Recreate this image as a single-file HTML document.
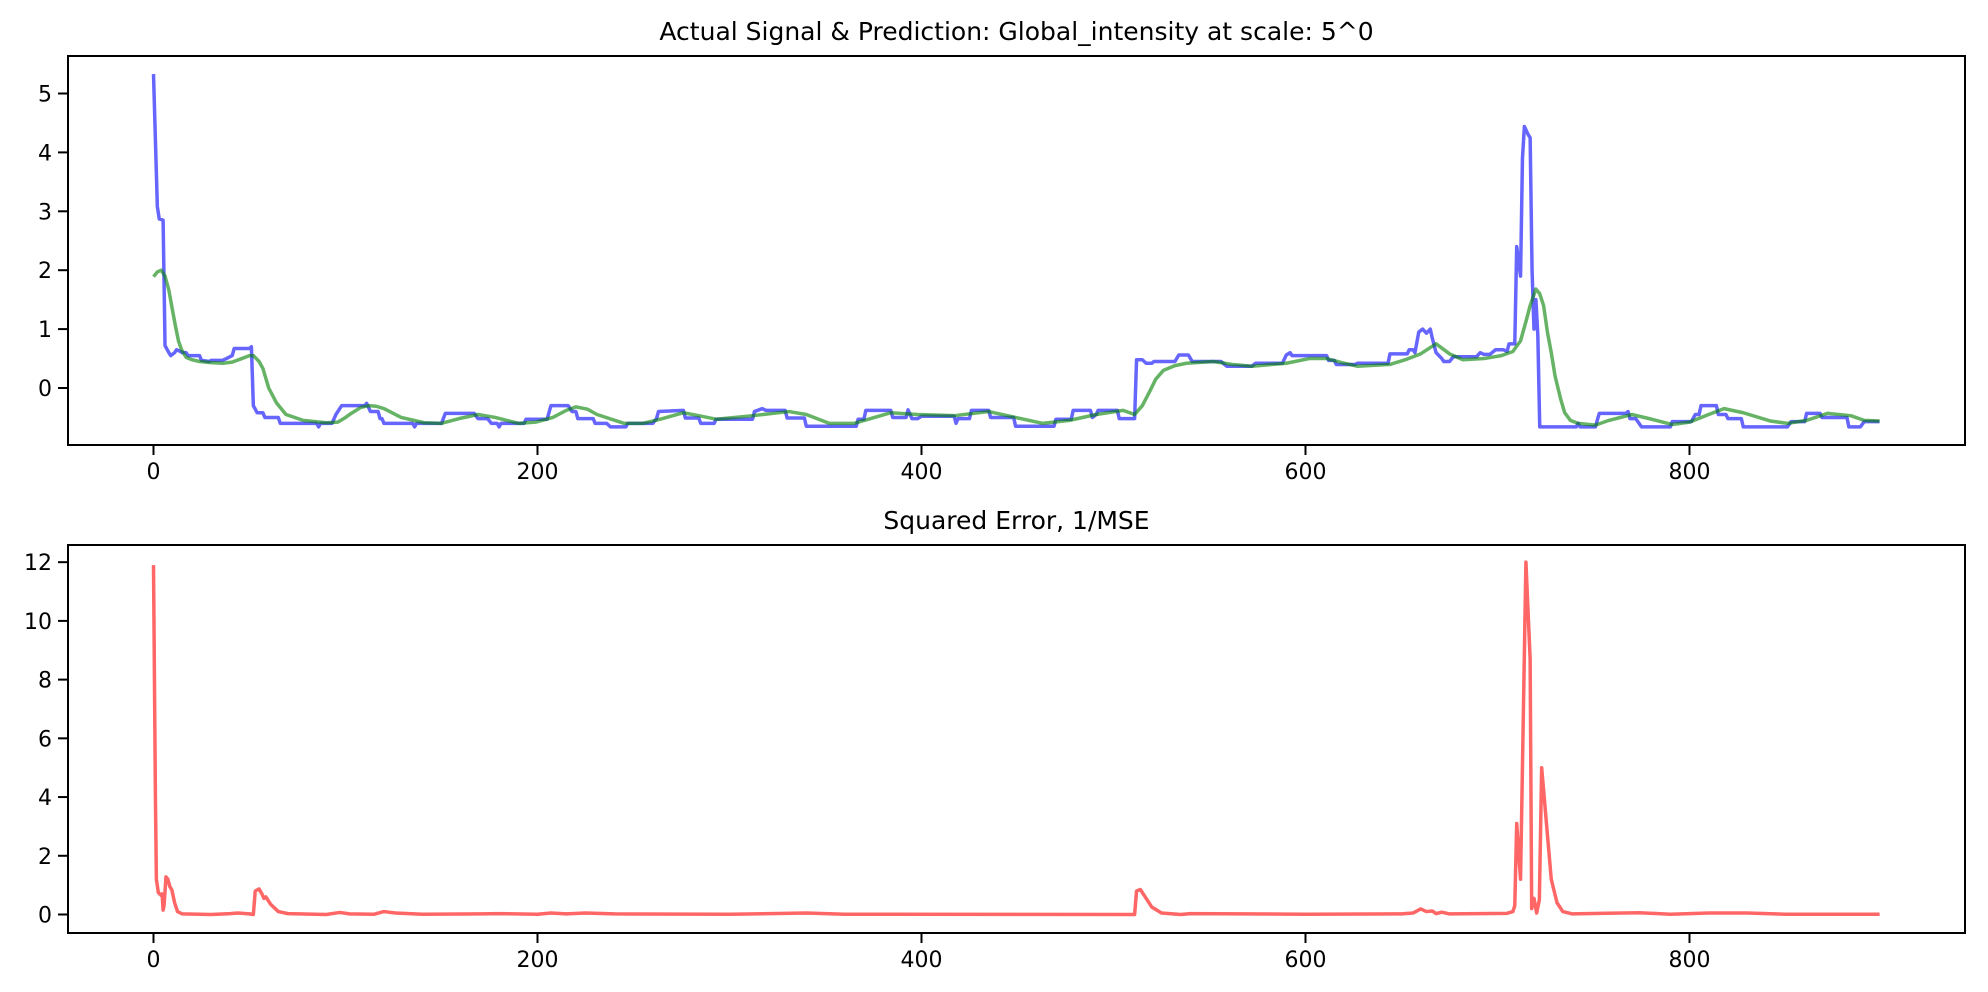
<!DOCTYPE html>
<html><head><meta charset="utf-8"><title>Actual Signal & Prediction</title>
<style>
html,body{margin:0;padding:0;background:#fff;}
svg{display:block;}
text{font-family:"DejaVu Sans","Liberation Sans",sans-serif;fill:#000;}
</style></head>
<body>
<svg id="fig" width="1988" height="992" viewBox="0 0 1988 992"></svg>
<script>
const xTicks = [0, 200, 400, 600, 800];
const topYTicks = [0, 1, 2, 3, 4, 5];
const botYTicks = [0, 2, 4, 6, 8, 10, 12];
const actualPoints = [[0,5.33],[2,3.08],[3,2.87],[5,2.85],[6,0.72],[8,0.6],[9,0.55],[11,0.6],[12,0.65],[14,0.62],[15,0.6],[17,0.6],[18,0.55],[24,0.55],[25,0.47],[29,0.45],[30,0.47],[36,0.47],[38,0.5],[41,0.55],[42,0.67],[50,0.67],[51,0.7],[52,-0.3],[54,-0.42],[57,-0.42],[58,-0.5],[65,-0.5],[66,-0.6],[85,-0.6],[86,-0.66],[87,-0.6],[93,-0.6],[95,-0.45],[98,-0.3],[110,-0.3],[111,-0.26],[113,-0.4],[117,-0.4],[118,-0.52],[119,-0.52],[120,-0.6],[135,-0.6],[136,-0.66],[137,-0.6],[150,-0.6],[152,-0.43],[167,-0.43],[169,-0.52],[174,-0.52],[176,-0.6],[179,-0.6],[180,-0.66],[181,-0.6],[193,-0.6],[194,-0.53],[205,-0.53],[207,-0.3],[216,-0.3],[218,-0.4],[220,-0.4],[221,-0.52],[229,-0.52],[230,-0.6],[236,-0.6],[238,-0.66],[246,-0.66],[247,-0.6],[260,-0.6],[262,-0.52],[263,-0.4],[276,-0.38],[277,-0.51],[284,-0.51],[285,-0.6],[292,-0.6],[293,-0.53],[312,-0.53],[313,-0.4],[317,-0.35],[319,-0.38],[329,-0.38],[330,-0.51],[339,-0.51],[340,-0.65],[366,-0.65],[367,-0.53],[370,-0.53],[371,-0.38],[384,-0.38],[385,-0.5],[392,-0.5],[393,-0.37],[395,-0.52],[398,-0.52],[400,-0.48],[417,-0.48],[418,-0.6],[419,-0.52],[425,-0.52],[426,-0.38],[435,-0.38],[436,-0.5],[448,-0.5],[449,-0.65],[469,-0.65],[470,-0.53],[478,-0.53],[479,-0.38],[488,-0.38],[489,-0.5],[491,-0.45],[492,-0.38],[502,-0.38],[503,-0.52],[511,-0.52],[512,0.48],[515,0.48],[517,0.42],[520,0.42],[521,0.45],[532,0.45],[534,0.56],[539,0.56],[541,0.45],[556,0.45],[559,0.37],[572,0.37],[574,0.42],[588,0.42],[590,0.56],[592,0.6],[593,0.55],[611,0.55],[612,0.47],[615,0.47],[616,0.4],[626,0.4],[627,0.42],[643,0.42],[644,0.58],[653,0.58],[654,0.65],[656,0.65],[657,0.6],[659,0.95],[661,1.0],[663,0.93],[665,1.0],[666,0.85],[668,0.6],[671,0.5],[672,0.45],[675,0.45],[677,0.53],[689,0.53],[691,0.6],[693,0.57],[696,0.57],[699,0.65],[703,0.65],[705,0.62],[706,0.75],[709,0.75],[710,2.4],[712,1.9],[713,3.9],[714,4.44],[716,4.3],[717,4.25],[718,2.0],[719,1.0],[720,1.5],[721,0.9],[722,-0.66],[741,-0.66],[742,-0.6],[743,-0.66],[751,-0.66],[753,-0.43],[767,-0.43],[768,-0.4],[769,-0.52],[772,-0.52],[775,-0.66],[790,-0.66],[791,-0.57],[801,-0.57],[803,-0.45],[805,-0.45],[806,-0.3],[814,-0.3],[815,-0.45],[819,-0.45],[820,-0.52],[827,-0.52],[828,-0.66],[851,-0.66],[853,-0.57],[860,-0.57],[861,-0.43],[868,-0.43],[869,-0.5],[882,-0.5],[883,-0.66],[889,-0.66],[891,-0.57],[899,-0.57]];
const predictionPoints = [[0,1.89],[2,1.97],[4,2.0],[6,1.9],[8,1.66],[10,1.3],[11.5,1.04],[13,0.8],[14.6,0.65],[17,0.52],[20,0.48],[24,0.45],[30,0.43],[36,0.42],[41,0.44],[46,0.5],[50,0.55],[52,0.55],[55,0.45],[57,0.33],[60,0.0],[64,-0.25],[69,-0.45],[78,-0.55],[90,-0.59],[96,-0.58],[100,-0.5],[103,-0.43],[108,-0.33],[112,-0.3],[116,-0.31],[120,-0.35],[129,-0.5],[141,-0.59],[150,-0.6],[159,-0.52],[169,-0.45],[178,-0.5],[190,-0.6],[199,-0.58],[208,-0.5],[215,-0.38],[220,-0.32],[226,-0.36],[231,-0.45],[245,-0.6],[255,-0.6],[264,-0.53],[276,-0.42],[284,-0.47],[293,-0.53],[312,-0.47],[331,-0.4],[340,-0.45],[352,-0.6],[365,-0.6],[384,-0.42],[398,-0.45],[417,-0.47],[435,-0.4],[449,-0.5],[463,-0.6],[477,-0.55],[491,-0.45],[505,-0.38],[511,-0.45],[515,-0.3],[519,-0.05],[522,0.15],[526,0.3],[532,0.38],[538,0.42],[552,0.45],[562,0.4],[572,0.37],[590,0.42],[602,0.5],[611,0.5],[619,0.43],[627,0.37],[644,0.4],[652,0.48],[660,0.58],[668,0.75],[675,0.58],[682,0.48],[693,0.5],[702,0.55],[708,0.62],[712,0.8],[715,1.15],[717,1.4],[720,1.68],[722,1.6],[724,1.4],[726,0.95],[728,0.6],[730,0.2],[733,-0.2],[735,-0.42],[738,-0.55],[742,-0.6],[751,-0.63],[758,-0.55],[770,-0.45],[779,-0.52],[791,-0.62],[800,-0.58],[810,-0.45],[818,-0.35],[828,-0.42],[842,-0.56],[851,-0.6],[861,-0.55],[872,-0.43],[884,-0.47],[891,-0.55],[899,-0.56]];
const errorPoints = [[0,11.9],[1,4.0],[1.5,1.2],[2.5,0.75],[4,0.65],[4.5,0.7],[5,0.15],[5.5,0.3],[6.5,1.28],[7.5,1.2],[8.5,0.95],[9.5,0.85],[11,0.4],[12.5,0.1],[15,0.02],[30,0.0],[40,0.03],[44,0.05],[50,0.02],[52,0.0],[53,0.8],[55,0.87],[56.5,0.7],[57.5,0.55],[58.5,0.6],[61,0.35],[65,0.1],[70,0.03],[90,0.0],[97,0.07],[102,0.02],[115,0.01],[120,0.1],[126,0.05],[140,0.01],[170,0.02],[180,0.03],[200,0.01],[207,0.05],[215,0.02],[225,0.05],[240,0.02],[300,0.01],[340,0.05],[360,0.01],[511,0.0],[512,0.8],[514,0.85],[516,0.65],[520,0.25],[525,0.05],[535,0.0],[540,0.03],[600,0.01],[650,0.02],[656,0.05],[660,0.19],[663,0.1],[666,0.12],[668,0.03],[671,0.08],[675,0.02],[705,0.04],[708,0.1],[709,0.3],[710,3.1],[712,1.2],[714.8,12.0],[717,8.7],[717.8,0.2],[719,0.55],[720.4,0.05],[721.8,0.5],[723,5.0],[725.5,3.1],[728,1.2],[731,0.4],[734,0.1],[739,0.02],[753,0.04],[774,0.06],[790,0.01],[810,0.05],[830,0.05],[850,0.01],[899,0.01]];

const NS = 'http://www.w3.org/2000/svg';
const svg = document.getElementById('fig');
const X0 = 153.5, XK = 1.92, LEFT = 68, RIGHT = 1965;
function sx(v){ return X0 + v * XK; }
function mk(tag, attrs, parent){ const e = document.createElementNS(NS, tag); for (const k in attrs) e.setAttribute(k, attrs[k]); (parent||svg).appendChild(e); return e; }

function drawPanel(p){
  const g = mk('g', {});
  
  
  const sy = v => p.y0 - v * p.yk;
  const clipId = p.name + '-clip';
  const cp = mk('clipPath', {id: clipId}, g);
  mk('rect', {x: LEFT, y: p.top, width: RIGHT - LEFT, height: p.bottom - p.top}, cp);
  const plot = mk('g', {'clip-path': 'url(#' + clipId + ')'}, g);
  p.series.forEach(s => {
    const d = s.pts.map((pt, i) => (i ? 'L' : 'M') + sx(pt[0]).toFixed(2) + ',' + sy(pt[1]).toFixed(2)).join('');
    const path = mk('path', {d: d, fill: 'none', stroke: s.color, 'stroke-opacity': 0.6, 'stroke-width': 3.5, 'stroke-linejoin': 'round'}, plot);
    
    
  });
  const frame = mk('rect', {x: LEFT, y: p.top, width: RIGHT - LEFT, height: p.bottom - p.top, fill: 'none', stroke: '#000', 'stroke-width': 2}, g);
  
  
  xTicks.forEach(t => {
    const x = sx(t);
    mk('line', {x1: x, x2: x, y1: p.bottom, y2: p.bottom + 10, stroke: '#000', 'stroke-width': 2}, g);
    const tx = mk('text', {x: x, y: p.bottom + 34, 'text-anchor': 'middle', 'font-size': 22}, g);
    tx.textContent = t;
    
    
  });
  p.yticks.forEach(t => {
    const y = sy(t);
    mk('line', {x1: LEFT - 10, x2: LEFT, y1: y, y2: y, stroke: '#000', 'stroke-width': 2}, g);
    const tx = mk('text', {x: LEFT - 16, y: y + 8, 'text-anchor': 'end', 'font-size': 22}, g);
    tx.textContent = t;
    
    
  });
  const title = mk('text', {x: (LEFT + RIGHT) / 2, y: p.top - 16, 'text-anchor': 'middle', 'font-size': 25}, g);
  title.textContent = p.title;
  
  
}

drawPanel({name: 'signal-panel', top: 56, bottom: 445, y0: 388, yk: 58.9, yticks: topYTicks,
  title: 'Actual Signal & Prediction: Global_intensity at scale: 5^0',
  series: [{name: 'actual-signal-line', pts: actualPoints, color: '#0000ff'},
           {name: 'prediction-line', pts: predictionPoints, color: '#008000'}]});
drawPanel({name: 'error-panel', top: 545, bottom: 933, y0: 914.5, yk: 29.36, yticks: botYTicks,
  title: 'Squared Error, 1/MSE',
  series: [{name: 'squared-error-line', pts: errorPoints, color: '#ff0000'}]});
</script>
</body></html>
